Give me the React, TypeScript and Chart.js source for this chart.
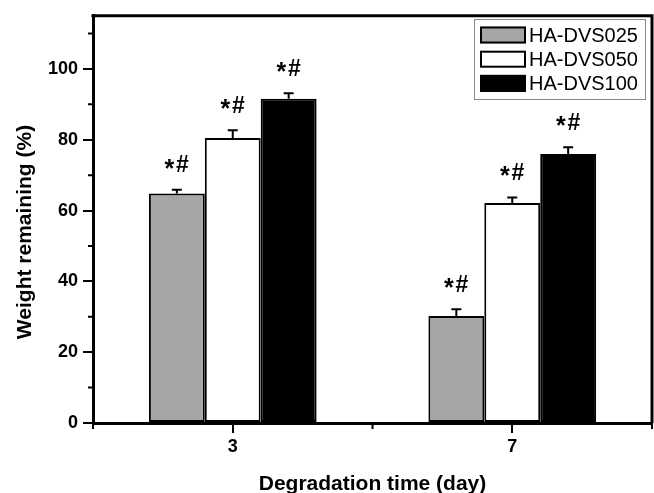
import React, { useEffect, useRef } from "react";
import { Chart, registerables } from "chart.js";

Chart.register(...registerables);

const categories = ["3", "7"];
const seriesLabels = ["HA-DVS025", "HA-DVS050", "HA-DVS100"];
const values025 = [64.8, 30.2];
const values050 = [80.5, 62.1];
const values100 = [91.6, 76.0];
const errors025 = [1.1, 1.9];
const errors050 = [2.2, 1.6];
const errors100 = [1.5, 1.9];
const marks025 = ["*#", "*#"];
const marks050 = ["*#", "*#"];
const marks100 = ["*#", "*#"];
const seriesColors = ["#a6a6a6", "#ffffff", "#000000"];
const yMajorTicks = [0, 20, 40, 60, 80, 100];
const yMinorTicks = [10, 30, 50, 70, 90, 110];
const yMin = 0;
const yMax = 115;
const xTitle = "Degradation time (day)";
const yTitle = "Weight remaining (%)";

const FONT = "'Liberation Sans', Arial, Helvetica, sans-serif";

function drawMark(ctx: any, text: string, cx: number, cy: number) {
  const glyphs = text.split("");
  const fonts = glyphs.map((g) => (g === "*" ? `bold 25px ${FONT}` : `bold 23px ${FONT}`));
  const widths: number[] = [];
  const metrics: any[] = [];
  glyphs.forEach((g, i) => {
    ctx.font = fonts[i];
    const m = ctx.measureText(g);
    metrics.push(m);
    widths.push(m.actualBoundingBoxLeft + m.actualBoundingBoxRight);
  });
  const gap = 1.5;
  const total = widths.reduce((a, b) => a + b, 0) + gap * (glyphs.length - 1);
  let x = cx - total / 2;
  ctx.textAlign = "left";
  ctx.textBaseline = "alphabetic";
  glyphs.forEach((g, i) => {
    const m = metrics[i];
    ctx.font = fonts[i];
    const asc = m.actualBoundingBoxAscent;
    const desc = m.actualBoundingBoxDescent;
    const baseY = cy + (asc - desc) / 2;
    ctx.fillText(g, x + m.actualBoundingBoxLeft, baseY);
    x += widths[i] + gap;
  });
}

const decorPlugin = {
  id: "decor",
  afterDatasetsDraw(chart: any) {
    const ctx = chart.ctx;
    const area = chart.chartArea;
    const ys = chart.scales.y;
    ctx.save();
    chart.data.datasets.forEach((ds: any, di: number) => {
      const meta = chart.getDatasetMeta(di);
      meta.data.forEach((bar: any, i: number) => {
        const v = ds.data[i];
        const e = ds.errors[i];
        const yTop = ys.getPixelForValue(v + e);
        const yV = ys.getPixelForValue(v);
        ctx.strokeStyle = "#000";
        ctx.lineWidth = 2;
        ctx.beginPath();
        ctx.moveTo(bar.x, yV);
        ctx.lineTo(bar.x, yTop);
        ctx.moveTo(bar.x - 5, yTop);
        ctx.lineTo(bar.x + 5, yTop);
        ctx.stroke();
        ctx.fillStyle = "#000";
        drawMark(ctx, ds.marks[i], bar.x, yTop - 26);
      });
    });
    ctx.strokeStyle = "#000";
    ctx.lineWidth = 3;
    ctx.beginPath();
    ctx.moveTo(area.left - 1.5, area.top);
    ctx.lineTo(area.right, area.top);
    ctx.lineTo(area.right, area.bottom);
    ctx.stroke();
    ctx.lineWidth = 2;
    ctx.beginPath();
    yMinorTicks.forEach((t) => {
      const py = ys.getPixelForValue(t);
      ctx.moveTo(area.left - 5, py);
      ctx.lineTo(area.left, py);
    });
    const n = categories.length;
    for (let i = 0; i <= n; i++) {
      const px = area.left + ((area.right - area.left) * i) / n;
      ctx.moveTo(px, area.bottom);
      ctx.lineTo(px, area.bottom + 6);
    }
    ctx.stroke();
    const lx = 474, ly = 19, lw = 171, lh = 80;
    ctx.fillStyle = "#fff";
    ctx.fillRect(lx, ly, lw, lh);
    ctx.strokeStyle = "#8a8a8a";
    ctx.lineWidth = 1;
    ctx.strokeRect(lx + 0.5, ly + 0.5, lw, lh);
    chart.data.datasets.forEach((ds: any, di: number) => {
      const cy = 35 + di * 24.2;
      ctx.fillStyle = ds.backgroundColor;
      ctx.fillRect(480, cy - 8.5, 46, 17);
      ctx.strokeStyle = "#000";
      ctx.lineWidth = 2;
      ctx.strokeRect(481, cy - 7.5, 44, 15);
      ctx.fillStyle = "#000";
      ctx.font = `20px ${FONT}`;
      ctx.textAlign = "left";
      ctx.textBaseline = "middle";
      ctx.fillText(ds.label, 529, cy + 1);
    });
    ctx.fillStyle = "#000";
    ctx.font = `bold 21px ${FONT}`;
    ctx.textAlign = "center";
    ctx.textBaseline = "alphabetic";
    ctx.fillText(xTitle, (area.left + area.right) / 2, 490);
    ctx.save();
    ctx.translate(31, 232);
    ctx.rotate(-Math.PI / 2);
    ctx.fillText(yTitle, 0, 0);
    ctx.restore();
    ctx.restore();
  },
};

export default function App() {
  const ref = useRef<HTMLCanvasElement | null>(null);
  useEffect(() => {
    document.body.style.margin = "0";
    if (!ref.current) return;
    const mk = (i: number, data: number[], errors: number[], marks: string[]) => ({
      label: seriesLabels[i],
      data,
      errors,
      marks,
      backgroundColor: seriesColors[i],
      borderColor: "#000",
      borderWidth: 2,
      borderSkipped: false,
      categoryPercentage: 0.6,
      barPercentage: 1.0,
    });
    const chart = new Chart(ref.current, {
      type: "bar",
      data: {
        labels: categories,
        datasets: [
          mk(0, values025, errors025, marks025),
          mk(1, values050, errors050, marks050),
          mk(2, values100, errors100, marks100),
        ] as any,
      },
      options: {
        animation: false,
        responsive: false,
        devicePixelRatio: 1,
        layout: { padding: { top: 12, right: 2, left: 0, bottom: 0 } },
        plugins: { legend: { display: false }, tooltip: { enabled: false } },
        scales: {
          x: {
            type: "category",
            offset: true,
            grid: {
              offset: false,
              drawOnChartArea: false,
              tickLength: 10,
              lineWidth: 2,
              color: "#000",
            },
            border: { display: true, color: "#000", width: 3 },
            ticks: {
              color: "#000",
              padding: 3,
              font: { family: FONT, size: 18, weight: "bold" },
            },
            afterFit: (s: any) => {
              s.height = 70;
            },
          },
          y: {
            type: "linear",
            min: yMin,
            max: yMax,
            ticks: {
              stepSize: 20,
              color: "#000",
              padding: 5,
              font: { family: FONT, size: 18, weight: "bold" },
            },
            afterBuildTicks: (s: any) => {
              s.ticks = yMajorTicks.map((v) => ({ value: v }));
            },
            grid: {
              drawOnChartArea: false,
              tickLength: 10,
              lineWidth: 2,
              color: "#000",
            },
            border: { display: true, color: "#000", width: 3 },
            afterFit: (s: any) => {
              s.width = 93;
            },
          },
        },
      } as any,
      plugins: [decorPlugin],
    });
    return () => chart.destroy();
  }, []);
  return (
    <div style={{ position: "fixed", left: 0, top: 0, width: 654, height: 493, background: "#fff" }}>
      <canvas ref={ref} width={654} height={493} style={{ width: 654, height: 493 }} />
    </div>
  );
}
